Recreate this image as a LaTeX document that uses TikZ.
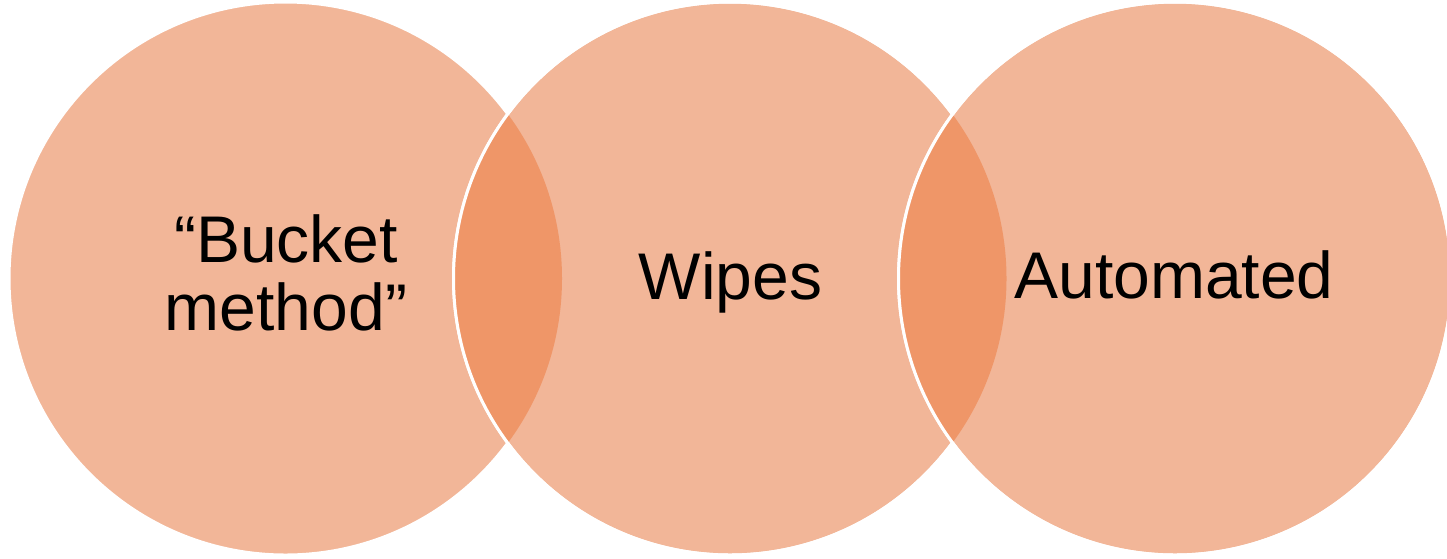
\documentclass[tikz,border=0pt]{standalone}
\usepackage{fontspec}
\setmainfont{Liberation Sans}
\definecolor{vlight}{HTML}{F2B698}
\definecolor{vdark}{HTML}{EF9668}
\tikzset{
  vcirc/.style={circle, fill=vlight, draw=white, line width=3pt, minimum size=553pt, inner sep=0pt},
  vlabel/.style={font=\fontsize{66}{68}\selectfont, text=black, align=center, inner sep=0pt}
}
\begin{document}
\begin{tikzpicture}[x=1pt,y=-1pt]
\useasboundingbox (0,0) rectangle (1447,558);
\begin{scope}
\clip (0,0) rectangle (1447,558);
% circle 1
\node[vcirc] (c1) at (285.5,278.5) {};
% circle 2
\node[vcirc] (c2) at (730,278.5) {};
\begin{scope}
  \clip (c1.center) circle[radius=276.5];
  \fill[vdark] (c2.center) circle[radius=276.5];
\end{scope}
\draw[white, line width=3pt] (c2.center) circle[radius=276.5];
% circle 3
\node[vcirc] (c3) at (1175,278.5) {};
\begin{scope}
  \clip (c2.center) circle[radius=276.5];
  \fill[vdark] (c3.center) circle[radius=276.5];
\end{scope}
\draw[white, line width=3pt] (c3.center) circle[radius=276.5];
\end{scope}
% labels
\node[vlabel] (t1) at (286,273) {\char"201C Bucket\\method\char"201D};
\node[vlabel, anchor=base] (t2) at (730.5,299.5) {Wipes};
\node[vlabel, anchor=base] (t3) at (1174,298.5) {Automated};
\end{tikzpicture}
\end{document}
